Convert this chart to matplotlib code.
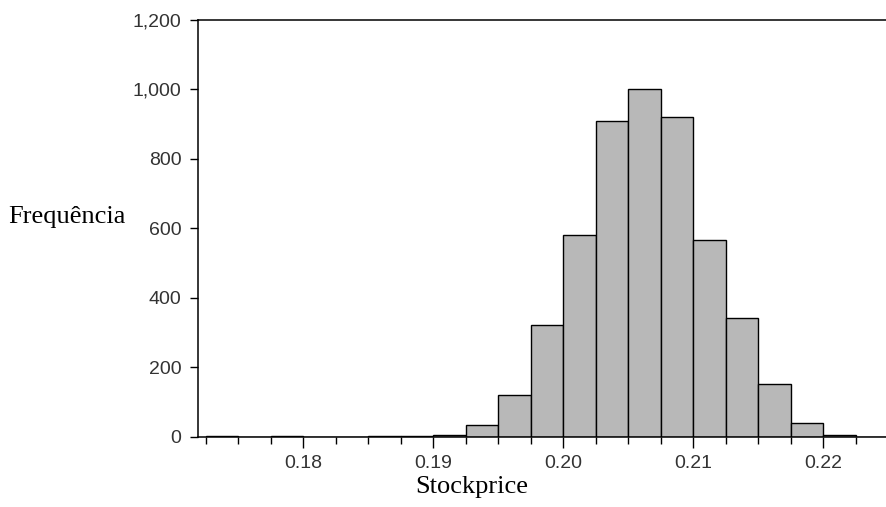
import numpy as np
import matplotlib.pyplot as plt
from matplotlib.ticker import FuncFormatter, MultipleLocator

# Histogram bins (width 0.0025) and counts per bin
bin_edges = np.round(np.arange(0.1725, 0.22501, 0.0025), 4)
counts = [2, 0, 2, 0, 0, 1, 2, 5, 32, 120, 320, 580, 908, 1000, 921, 566, 342, 150, 40, 5, 0]

y_ticks = [0, 200, 400, 600, 800, 1000, 1200]
x_ticks = [0.18, 0.19, 0.20, 0.21, 0.22]

fig = plt.figure(figsize=(8.87, 5.07), dpi=100)
ax = fig.add_axes([198 / 887, (507 - 436.5) / 507, (887 - 198) / 887, (436.5 - 20) / 507])

# Bars
ax.bar(bin_edges[:-1], counts, width=np.diff(bin_edges), align='edge',
       color='#b8b8b8', edgecolor='black', linewidth=1.0)

ax.set_xlim(0.1719, 0.2249)
ax.set_ylim(0, 1200)

ax.spines['right'].set_visible(False)
for s in ['left', 'top', 'bottom']:
    ax.spines[s].set_linewidth(1.1)

ax.set_yticks(y_ticks)
ax.yaxis.set_major_formatter(FuncFormatter(lambda v, p: f'{int(v):,}'))
ax.set_xticks(x_ticks)
ax.xaxis.set_major_formatter(FuncFormatter(lambda v, p: f'{v:.2f}'))
ax.xaxis.set_minor_locator(MultipleLocator(0.0025))

for lbl in ax.get_xticklabels() + ax.get_yticklabels():
    lbl.set_fontfamily('Liberation Sans')
    lbl.set_fontsize(14)
    lbl.set_color('#333333')

ax.tick_params(axis='y', direction='out', length=6, width=1, pad=6)
ax.tick_params(axis='x', which='major', direction='out', length=8, width=1, pad=5)
ax.tick_params(axis='x', which='minor', direction='out', length=5, width=1)

# Axis titles
fig.text(472 / 887, 1 - 487 / 507, 'Stockprice', family='Liberation Serif',
         fontsize=19, ha='center', va='center')
fig.text(8 / 887, 1 - 217 / 507, 'Frequência', family='Liberation Serif',
         fontsize=19, ha='left', va='center')

fig.savefig('out.png', dpi=100)
